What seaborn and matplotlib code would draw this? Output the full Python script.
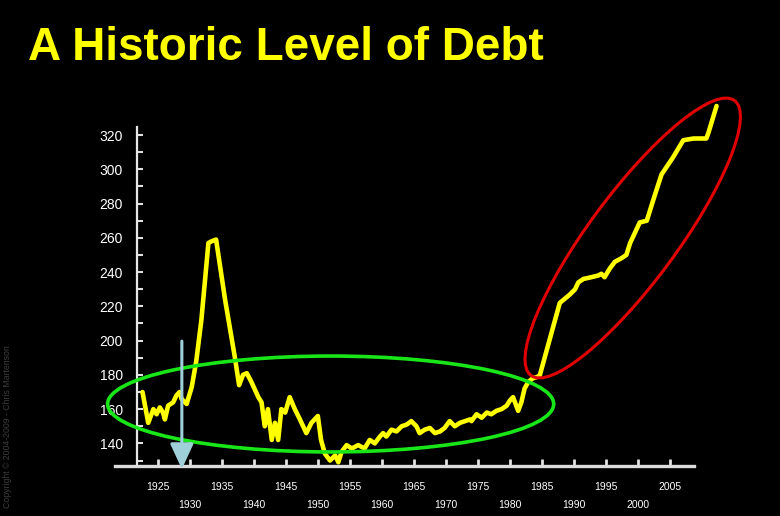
import numpy as np
import pandas as pd
import matplotlib
matplotlib.use("Agg")
import matplotlib.pyplot as plt
import matplotlib.transforms as mtransforms
from matplotlib.patches import Ellipse
import seaborn as sns

# --- data ---
years = [1922.6, 1923.5, 1924.3, 1924.8, 1925.3, 1925.8, 1926.1, 1926.6, 1927.4, 1927.9,
         1928.4, 1928.7, 1929.5, 1930.3, 1931.0, 1931.8, 1932.9, 1933.4, 1934.1, 1934.3,
         1935.5, 1937.0, 1937.7, 1938.3, 1938.9, 1939.6, 1940.7, 1941.2, 1941.7, 1942.2,
         1942.8, 1943.3, 1943.8, 1944.3, 1944.9, 1945.6, 1946.4, 1947.2, 1948.2, 1949.0,
         1950.0, 1950.5, 1951.1, 1951.9, 1952.7, 1953.2, 1953.7, 1954.5, 1955.3, 1956.3,
         1957.3, 1958.1, 1958.9, 1959.7, 1960.2, 1960.7, 1961.5, 1962.3, 1963.1, 1963.9,
         1964.6, 1965.4, 1965.9, 1966.7, 1967.5, 1968.3, 1969.1, 1969.8, 1970.6, 1971.4,
         1972.2, 1973.0, 1973.8, 1974.0, 1974.8, 1975.6, 1976.4, 1977.1, 1977.9, 1978.7,
         1979.5, 1980.0, 1980.5, 1981.3, 1981.8, 1982.3, 1982.9, 1983.6, 1984.4, 1984.7,
         1987.8, 1989.4, 1990.2, 1990.7, 1991.5, 1992.7, 1993.8, 1994.3, 1994.8, 1995.6,
         1996.4, 1997.4, 1998.2, 1998.8, 2000.3, 2001.4, 2002.4, 2003.7, 2005.5, 2007.1,
         2008.7, 2010.7, 2011.0, 2012.3]
debt = [170, 152, 160, 157, 161, 158, 154, 162, 164, 168,
        170, 166, 163, 173, 188, 212, 257, 258, 259, 254,
        224, 191, 174, 180, 181, 176, 167, 164, 150, 160,
        142, 152, 142, 160, 158, 167, 160, 154, 146, 152,
        156, 142, 134, 130, 133, 129, 135, 139, 137, 139,
        137, 142, 140, 144, 146, 144, 148, 147, 150, 151,
        153, 150, 146, 148, 149, 146, 147, 149, 153, 150,
        152, 153, 154, 153, 157, 155, 158, 157, 159, 160,
        162, 165, 167, 159, 164, 172, 176, 178, 179, 180,
        222, 227, 230, 234, 236, 237, 238, 239, 237, 242,
        246, 248, 250, 257, 269, 270, 282, 297, 307, 317,
        318, 318, 321, 337]

upper_years = list(range(1925, 2006, 10))   # 1925, 1935, ... 2005
lower_years = list(range(1930, 2001, 10))   # 1930, 1940, ... 2000
y_labels = list(range(140, 321, 20))
y_minor = list(range(130, 321, 10))

df = pd.DataFrame({"year": years, "debt": debt})

sns.set_theme(style="ticks")
plt.rcParams["font.family"] = ["Liberation Sans Narrow", "Liberation Sans", "DejaVu Sans"]

fig = plt.figure(figsize=(7.8, 5.16), dpi=100, facecolor="black")
ax = fig.add_axes([0.1474, 0.0969, 0.7885, 0.719])
ax.set_facecolor("black")

sns.lineplot(data=df, x="year", y="debt", sort=False, estimator=None,
             color="#ffff00", linewidth=3.3, ax=ax, zorder=3)

ax.set_xlim(1918.3, 2014.4)
ax.set_ylim(126.8, 343.4)
ax.set_xlabel("")
ax.set_ylabel("")

# axes look
for s in ["top", "right"]:
    ax.spines[s].set_visible(False)
ax.spines["left"].set_position(("data", 1921.7))
ax.spines["left"].set_bounds(126.8, 324.7)
ax.spines["left"].set_color("#e6e6e6")
ax.spines["left"].set_linewidth(1.6)
ax.spines["bottom"].set_bounds(1918.3, 2008.8)
ax.spines["bottom"].set_color("#dcdcdc")
ax.spines["bottom"].set_linewidth(2.4)

ax.set_xticks(upper_years)
ax.set_xticklabels([str(y) for y in upper_years])
ax.set_xticks(lower_years, minor=True)
ax.set_xticklabels([str(y) for y in lower_years], minor=True)
ax.tick_params(axis="x", which="major", bottom=True, direction="in", length=5, width=2,
               color="#e0e0e0", labelcolor="white", labelsize=7.5, pad=11.5)
ax.tick_params(axis="x", which="minor", bottom=True, direction="in", length=5, width=2,
               color="#e0e0e0", labelcolor="white", labelsize=7.5, pad=24.5)

ax.set_yticks(y_labels)
ax.set_yticklabels([str(v) for v in y_labels])
ax.set_yticks(y_minor, minor=True)
ax.tick_params(axis="y", which="both", left=True, direction="in", length=4, width=1.5,
               color="#e0e0e0", labelcolor="white", labelsize=10, pad=10)

# green ellipse around the flat era
ax.add_patch(Ellipse((1952.0, 163.0), width=69.7, height=56.0, fill=False,
                     edgecolor="#19e619", linewidth=2.6, zorder=4, clip_on=False))

# red ellipse around the recent run-up (drawn in inches around a data-point centre)
red_tr = fig.dpi_scale_trans + mtransforms.ScaledTranslation(1999.2, 259.9, ax.transData)
ax.add_patch(Ellipse((0, 0), width=3.42, height=0.88, angle=53.5, fill=False,
                     edgecolor="#e00000", linewidth=2.2, transform=red_tr,
                     zorder=4, clip_on=False))

# light blue arrow at 1929
ax.annotate("", xy=(1928.75, 125.0), xytext=(1928.75, 199.7),
            arrowprops=dict(arrowstyle="-|>,head_length=1.3,head_width=0.6",
                            color="#9fd0da", lw=2.2, shrinkA=0, shrinkB=0),
            annotation_clip=False, zorder=5)

fig.text(0.036, 1 - 60 / 516, "A Historic Level of Debt", color="#ffff00",
         fontsize=33, fontweight="bold", family=["Liberation Sans", "DejaVu Sans"],
         ha="left", va="baseline")

fig.text(8 / 780, 1 - 345 / 516, "Copyright \u00a9 2004-2009 - Chris Martenson",
         color="#3c3c3c", fontsize=6.3, rotation=90, ha="center", va="top",
         family=["Liberation Sans", "DejaVu Sans"])

fig.savefig("out.png", dpi=100, facecolor="black")
